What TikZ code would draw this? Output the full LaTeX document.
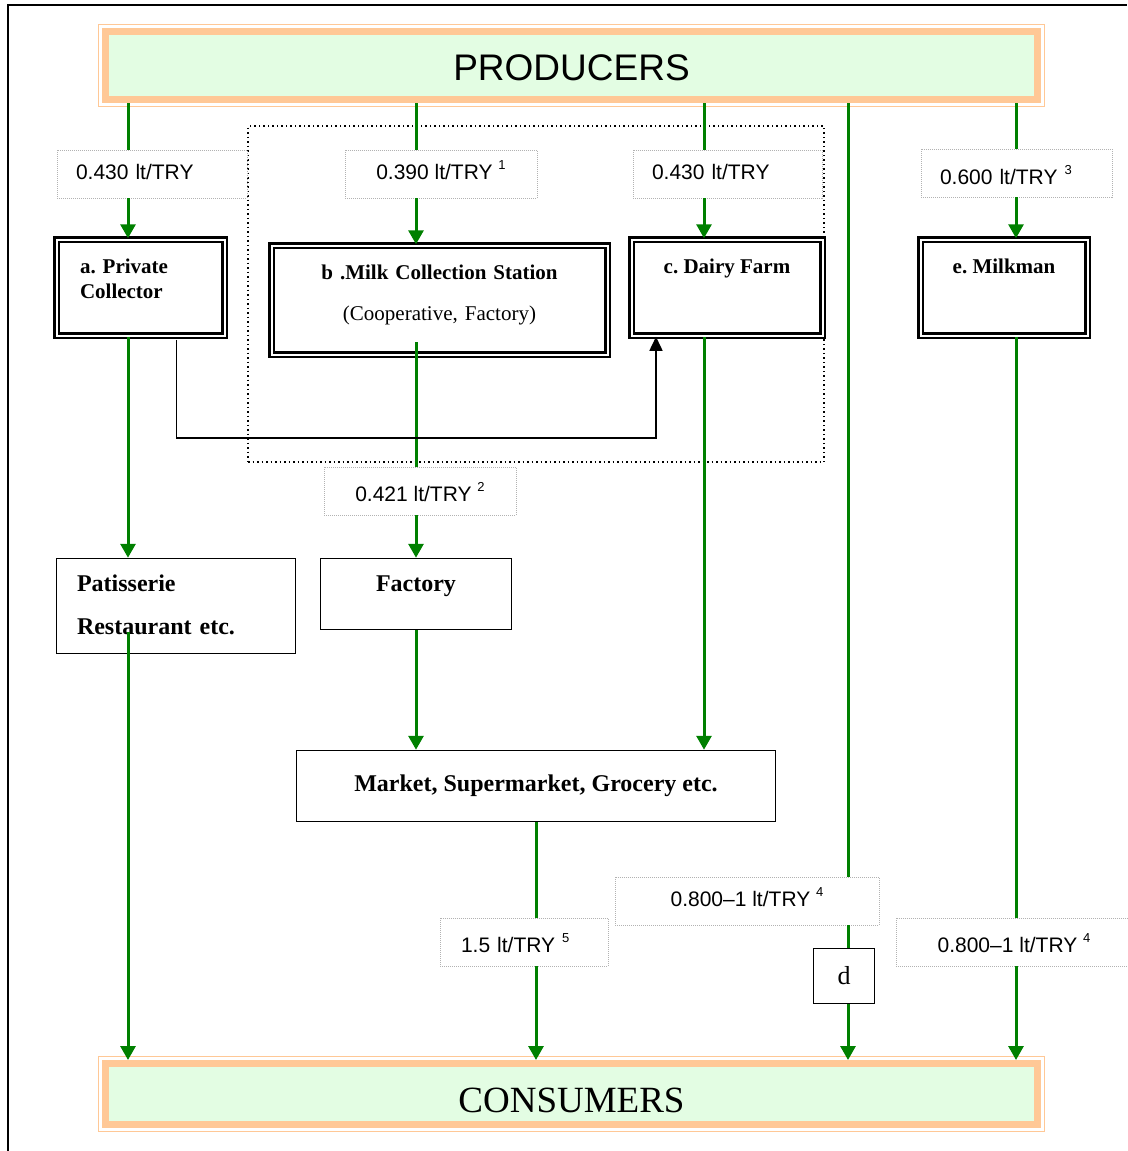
\documentclass[tikz,border=0pt]{standalone}
\usepackage{fontspec}
\setmainfont{Liberation Serif}
\newfontfamily\ratefont{Liberation Sans}
\usepackage{tikz}
\usetikzlibrary{arrows.meta}

\definecolor{peach}{RGB}{255,200,150}
\definecolor{mint}{RGB}{227,253,227}
\definecolor{flowgreen}{RGB}{0,128,0}

\newcommand{\ratesup}[1]{\raisebox{10pt}{\fontsize{13}{13}\selectfont #1}}

\tikzset{
  band/.style={draw=peach, line width=7pt, fill=mint, minimum width=932pt},
  rate/.style={draw=black!30, dash pattern=on 1pt off 1pt, line width=0.8pt, fill=white,
    minimum height=48pt, inner ysep=0pt, align=left,
    font=\ratefont\fontsize{21}{25}\selectfont, text height=15pt, text depth=4pt},
  lowrate/.style={rate, text height=21pt, text depth=0pt},
  agent/.style={draw, line width=2.5pt, double=white, double distance=2pt, inner sep=0pt,
    minimum height=96pt, font=\bfseries\fontsize{21}{25}\selectfont},
  outlet/.style={draw, line width=1.5pt, inner sep=0pt, font=\bfseries\fontsize{24}{43}\selectfont},
  groupbox/.style={draw, line width=1.5pt, dash pattern=on 1.5pt off 3pt},
  flow/.style={flowgreen, line width=3pt},
  flowtip/.style={flow, -{Triangle[width=15pt,length=14pt]}},
  handover/.style={draw=black, line width=1.5pt, -{Triangle[width=13pt,length=14pt]}}
}

\begin{document}
\frenchspacing
\begin{tikzpicture}[x=1pt,y=-1pt]
  \useasboundingbox (0,0) rectangle (1127,1151);
  \draw[line width=1.5pt] (8,1151) -- (8,5) -- (1127,5);
  \draw (536,294) node[groupbox, minimum width=576pt, minimum height=336pt] (stationgrp) {};

  \draw (571.5,65.5) node[band, minimum height=68pt, font=\ratefont\fontsize{37}{40}\selectfont,
    text height=30.5pt, text depth=0pt] (producers) {PRODUCERS};
  \draw[peach, line width=1.5pt] ([shift={(-3.5,-3.5)}]producers.north west) rectangle ([shift={(3.5,3.5)}]producers.south east);
  \draw (571.5,1094) node[band, minimum height=61pt, font=\fontsize{37}{40}\selectfont,
    text height=36.5pt, text depth=0pt] (consumers) {CONSUMERS};
  \draw[peach, line width=1.5pt] ([shift={(-3.5,-3.5)}]consumers.north west) rectangle ([shift={(3.5,3.5)}]consumers.south east);

  \draw (140.5,287.5) node[agent, minimum width=168pt, text width=121pt, align=left,
    text height=14pt, text depth=43pt] (privcol) {a. Private\\Collector};
  \draw (439.5,300) node[agent, minimum width=336pt, minimum height=109pt, text width=320pt, align=center,
    text height=14pt, text depth=56pt] (milkst) {b .Milk Collection Station\\[16pt]\mdseries(Cooperative, Factory)};
  \draw (727,287.5) node[agent, minimum width=191pt, text height=14pt, text depth=43pt] (dairy) {c. Dairy Farm};
  \draw (1004,287.5) node[agent, minimum width=167pt, text height=14pt, text depth=43pt] (milkman) {e. Milkman};

  \draw (176,606) node[outlet, minimum width=239pt, minimum height=95pt, text width=198pt, align=left,
    text height=16pt, text depth=46pt] (patis) {Patisserie\\Restaurant etc.};
  \draw (416,594) node[outlet, minimum width=191pt, minimum height=71pt,
    text height=16pt, text depth=22pt] (factory) {Factory};
  \draw (536,786) node[outlet, minimum width=479pt, minimum height=71pt,
    text height=16pt, text depth=6pt] (market) {Market, Supermarket, Grocery etc.};
  \draw (844,976) node[outlet, minimum width=61pt, minimum height=55pt,
    font=\mdseries\fontsize{26}{30}\selectfont] (dseller) {d};

  \draw (152,174) node[rate, minimum width=190pt, text width=152pt] (lblA) {0.430 lt/TRY};
  \draw (441,174) node[rate, minimum width=192pt, align=center] (lblB) {0.390 lt/TRY \ratesup{1}};
  \draw (727.5,174) node[rate, minimum width=189pt, text width=151pt] (lblC) {0.430 lt/TRY};
  \draw (1016.5,173) node[rate, minimum width=191pt, text width=153pt, text height=23pt, text depth=0pt] (lblE) {0.600 lt/TRY \ratesup{3}};
  \draw (420,491) node[lowrate, minimum width=192pt, align=center] (lblF) {0.421 lt/TRY \ratesup{2}};
  \draw (524,942) node[lowrate, minimum width=168pt, text width=126pt] (lblM) {1.5 lt/TRY \ratesup{5}};
  \draw (747,901) node[rate, minimum width=264pt, align=center] (lblD) {0.800–1 lt/TRY \ratesup{4}};
  \draw (1014,942) node[lowrate, minimum width=236pt, align=center] (lblE2) {0.800–1 lt/TRY \ratesup{4}};

  \coordinate (colA) at (128,0);
  \coordinate (colB) at (416,0);
  \coordinate (colC) at (704,0);
  \coordinate (colD) at (848,0);
  \coordinate (colE) at (1016,0);
  \coordinate (colM) at (536,0);
  \coordinate (patstart) at (128,632);
  \coordinate (milkstart) at (416,342);

  \path[flow] (colA |- producers.south) edge (colA |- lblA.north)
    (colB |- producers.south) edge (colB |- lblB.north)
    (colC |- producers.south) edge (colC |- lblC.north)
    (colD |- producers.south) edge (colD |- lblD.north)
    (colE |- producers.south) edge (colE |- lblE.north)
    (milkstart) edge (colB |- lblF.north)
    (colD |- lblD.south) edge (colD |- dseller.north)
    (colE |- milkman.south) edge (colE |- lblE2.north)
    (colM |- market.south) edge (colM |- lblM.north);
  \path[flowtip] (colA |- lblA.south) edge (colA |- privcol.north)
    (colA |- privcol.south) edge (colA |- patis.north)
    (patstart) edge (colA |- consumers.north)
    (colB |- lblB.south) edge (colB |- milkst.north)
    (colB |- lblF.south) edge (colB |- factory.north)
    (colB |- factory.south) edge (colB |- market.north)
    (colC |- lblC.south) edge (colC |- dairy.north)
    (colC |- dairy.south) edge (colC |- market.north)
    (colD |- dseller.south) edge (colD |- consumers.north)
    (colE |- lblE.south) edge (colE |- milkman.north)
    (colE |- lblE2.south) edge (colE |- consumers.north)
    (colM |- lblM.south) edge (colM |- consumers.north);
  \draw[handover] ([xshift=36pt,yshift=-3pt]privcol.south) -- ++(0,98) -| ([xshift=-71pt]dairy.south);
\end{tikzpicture}
\end{document}
